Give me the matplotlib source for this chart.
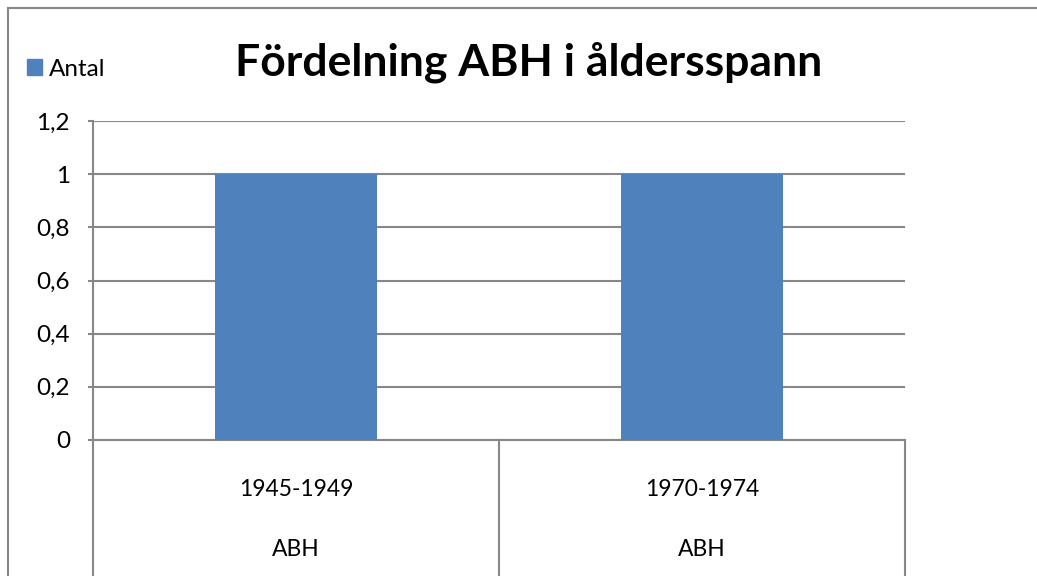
import matplotlib.pyplot as plt
from matplotlib.lines import Line2D
from matplotlib.patches import Patch
import matplotlib.transforms as mtransforms

# chart data
categories = ["1945-1949", "1970-1974"]
group_labels = ["ABH", "ABH"]
values = [1, 1]
series_name = "Antal"
yticks = [0, 0.2, 0.4, 0.6, 0.8, 1.0, 1.2]

bar_color = "#4F81BD"
grid_color = "#878787"

plt.rcParams['font.family'] = ['Lato', 'DejaVu Sans']

fig = plt.figure(figsize=(10.37, 5.76), dpi=100)
ax = fig.add_axes([93 / 1037, (576 - 440) / 576, (905 - 93) / 1037, (440 - 121) / 576])

x = list(range(len(categories)))
ax.bar(x, values, width=0.4, color=bar_color, zorder=3)

ax.set_xlim(-0.5, len(categories) - 0.5)
ax.set_ylim(0, 1.2)
ax.set_yticks(yticks)
ax.set_yticklabels([f"{t:g}".replace(".", ",") for t in yticks], fontsize=17.5)
ax.tick_params(axis='y', length=3.6, width=1.5, color=grid_color, pad=13)
ax.set_xticks([])
ax.yaxis.grid(True, color=grid_color, linewidth=1.5, zorder=0)

for side in ["top", "right"]:
    ax.spines[side].set_visible(False)
for side in ["left", "bottom"]:
    ax.spines[side].set_color(grid_color)
    ax.spines[side].set_linewidth(1.5)

# multi-level category axis below the plot
trans = mtransforms.blended_transform_factory(ax.transData, ax.transAxes)
depth = -140 / 319
for xb in [i - 0.5 for i in range(len(categories) + 1)]:
    ax.add_line(Line2D([xb, xb], [0, depth], transform=trans, color=grid_color,
                       linewidth=1.5, clip_on=False))
for i, (cat, grp) in enumerate(zip(categories, group_labels)):
    ax.text(i, -50 / 319, cat, transform=trans, ha='center', va='center', fontsize=16.5)
    ax.text(i, -109 / 319, grp, transform=trans, ha='center', va='center', fontsize=16.5)

# title and legend
fig.text(529 / 1037, 1 - 62 / 576, "Fördelning ABH i åldersspann",
         ha='center', va='center', fontsize=32, fontweight='bold')
fig.legend(handles=[Patch(color=bar_color, label=series_name)],
           loc='center left', bbox_to_anchor=(27 / 1037, 1 - 69 / 576),
           frameon=False, fontsize=17.5, handlelength=0.6, handleheight=0.6,
           handletextpad=0.3, borderaxespad=0, borderpad=0)

# chart area border
fig.add_artist(Line2D([8 / 1037, 1], [1 - 8 / 576, 1 - 8 / 576], transform=fig.transFigure,
                      color=grid_color, linewidth=1.5))
fig.add_artist(Line2D([8 / 1037, 8 / 1037], [0, 1 - 8 / 576], transform=fig.transFigure,
                      color=grid_color, linewidth=1.5))

fig.savefig("out.png", dpi=100)
